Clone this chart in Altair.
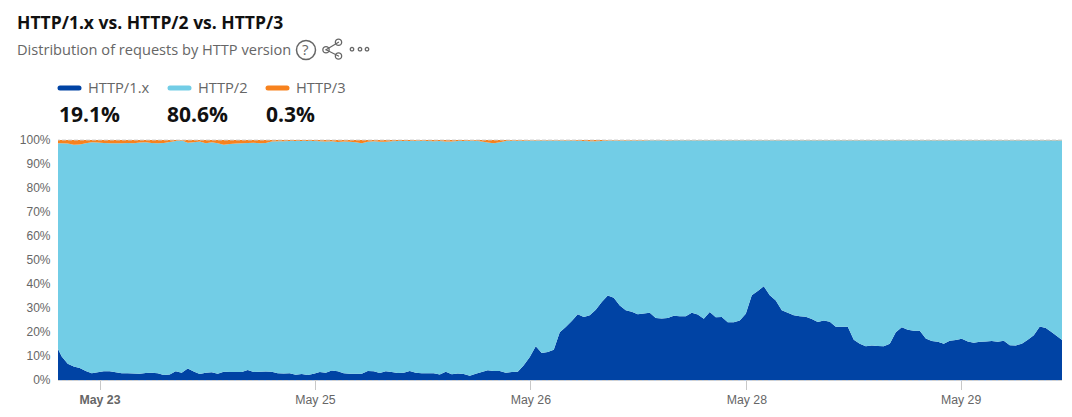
import altair as alt
import pandas as pd

http1 = [15.0,10.0,7.0,5.8,5.2,4.0,3.0,3.4,3.8,3.8,3.4,3.0,3.0,2.9,2.8,3.1,3.2,3.0,2.3,2.5,
 3.8,3.2,5.0,3.7,2.7,3.2,3.4,2.8,3.6,3.5,3.5,3.5,4.4,3.5,3.6,3.7,3.6,3.0,2.9,3.0,
 2.4,2.7,2.3,2.8,3.5,3.2,4.2,3.8,3.0,2.8,2.8,2.8,3.9,3.8,3.1,3.8,3.5,3.1,3.2,4.0,
 3.2,3.0,3.0,3.0,2.5,3.6,2.6,2.9,2.7,2.0,2.8,3.5,4.3,3.9,3.9,3.2,3.5,3.6,6.3,9.8,
 14.2,11.4,11.8,12.8,20.1,22.2,24.7,27.5,26.4,27.1,29.4,32.6,35.3,34.4,31.2,29.2,28.6,27.5,27.9,28.2,
 26.0,25.8,26.0,26.9,26.7,26.7,28.2,27.4,25.7,28.5,26.3,26.4,24.2,24.2,25.0,27.8,35.4,37.2,39.2,35.4,
 33.3,29.2,28.2,27.1,26.7,26.5,25.6,24.3,25.0,24.4,22.4,22.4,22.4,16.9,15.3,14.2,14.6,14.3,14.2,15.3,
 20.1,22.1,21.1,20.7,20.7,17.5,16.4,16.1,15.3,16.5,16.8,17.4,16.2,15.7,16.1,16.2,16.4,16.1,16.5,14.7,
 14.6,15.3,16.9,18.8,22.5,21.8,20.1,18.2,16.2]
http3 = [1.3,1.3,1.5,2.0,1.9,1.3,0.9,1.0,1.2,1.3,1.3,1.3,1.2,1.3,1.0,0.9,1.2,1.4,1.2,0.8,
 0.4,0.2,1.1,0.9,0.6,1.3,0.9,1.3,2.0,1.7,1.5,1.4,1.2,1.1,1.4,1.2,0.6,0.5,0.5,0.4,
 0.4,0.4,0.4,0.4,0.5,0.6,0.5,0.8,0.6,0.7,0.9,1.3,0.7,0.5,0.7,0.7,0.5,0.4,0.4,0.4,
 0.3,0.3,0.4,0.5,0.4,0.6,0.6,0.4,0.4,0.3,0.3,0.6,1.0,1.3,0.9,0.4,0.3,0.3,0.3,0.2,
 0.2,0.2,0.2,0.2,0.2,0.2,0.2,0.3,0.4,0.5,0.5,0.4,0.2,0.2,0.2,0.2,0.2,0.2,0.2,0.1,
 0.1,0.1,0.2,0.1,0.1,0.1,0.1,0.1,0.1,0.1,0.1,0.1,0.1,0.1,0.1,0.1,0.1,0.1,0.1,0.1,
 0.1,0.1,0.1,0.1,0.1,0.1,0.1,0.1,0.1,0.1,0.1,0.1,0.1,0.1,0.1,0.1,0.1,0.1,0.1,0.1,
 0.1,0.1,0.1,0.1,0.1,0.1,0.1,0.1,0.1,0.1,0.1,0.1,0.1,0.1,0.1,0.1,0.1,0.1,0.1,0.1,
 0.1,0.1,0.1,0.1,0.1,0.1,0.1,0.1,0.1]
series = ["HTTP/1.x", "HTTP/2", "HTTP/3"]
colors = ["#0043A4", "#72CDE6", "#F7821E"]
shares = ["19.1%", "80.6%", "0.3%"]
tick_values = [7.3, 43.2, 79.1, 115.1, 150.8]
tick_labels = ["May 23", "May 25", "May 26", "May 28", "May 29"]
y_ticks = [0, 10, 20, 30, 40, 50, 60, 70, 80, 90, 100]
title = "HTTP/1.x vs. HTTP/2 vs. HTTP/3"
subtitle = "Distribution of requests by HTTP version"

PLOT_X, PLOT_Y = 58, 139.5
n = min(len(http1), len(http3))
rows = []
for i in range(n):
    rows.append({"i": i, "s": series[0], "o": 0, "v": http1[i]})
    rows.append({"i": i, "s": series[1], "o": 1, "v": 100 - http1[i] - http3[i]})
    rows.append({"i": i, "s": series[2], "o": 2, "v": http3[i]})
df = pd.DataFrame(rows)

label_map = ",".join(f"'{v}':'{t}'" for v, t in zip(tick_values, tick_labels))
bold_test = f"datum.value == {tick_values[0]}"

y_axis = alt.Axis(values=y_ticks, grid=False, domain=False, ticks=False, title=None,
                  format="d", labelExpr="datum.value + '%'", labelPadding=8, labelOverlap=False,
                  labelOffset=-1,
                  labelFont="Liberation Sans", labelFontSize=12, labelColor="#666666")
y_scale = alt.Scale(domain=[0, 100], nice=False)

area = alt.Chart(df).mark_area(clip=True, interpolate="linear", line=False).encode(
    x=alt.X("i:Q", scale=alt.Scale(domain=[0.38, 167.7], nice=False, zero=False),
            axis=alt.Axis(values=tick_values, grid=False, domain=False, title=None,
                          tickColor="#c8c8c8", tickSize=9, tickWidth=1, labelPadding=4,
                          labelFont="Liberation Sans", labelFontSize=12.3, labelColor="#666666",
                          labelOverlap=False,
                          labelExpr="{" + label_map + "}[datum.value]",
                          labelFontWeight={"condition": {"test": bold_test, "value": "bold"}, "value": "normal"})),
    y=alt.Y("v:Q", stack="zero", scale=y_scale, axis=y_axis),
    color=alt.Color("s:N", scale=alt.Scale(domain=series, range=colors), legend=None),
    order=alt.Order("o:Q"),
)
edges = alt.Chart(pd.DataFrame({"v": [0, 100]})).mark_rule(
    color="#d0d0d0", strokeDash=[4, 2], strokeWidth=1).encode(y=alt.Y("v:Q", scale=y_scale, axis=y_axis))

def text(s, x, y, size, color, weight="normal", font="Open Sans"):
    return alt.Chart(pd.DataFrame({"t": [s]})).mark_text(
        align="left", baseline="middle", fontSize=size, fontWeight=weight, font=font, color=color
    ).encode(x=alt.value(x - PLOT_X), y=alt.value(y - PLOT_Y), text="t:N")

def line(x1, y1, x2, y2, color, width, cap="round"):
    return alt.Chart(pd.DataFrame({"a": [0]})).mark_rule(color=color, strokeWidth=width, strokeCap=cap).encode(
        x=alt.value(x1 - PLOT_X), x2=alt.value(x2 - PLOT_X),
        y=alt.value(y1 - PLOT_Y), y2=alt.value(y2 - PLOT_Y))

def dot(x, y, size, color, width):
    return alt.Chart(pd.DataFrame({"a": [0]})).mark_point(
        shape="circle", filled=False, size=size, color=color, strokeWidth=width, opacity=1
    ).encode(x=alt.value(x - PLOT_X), y=alt.value(y - PLOT_Y))

header = [
    text(title, 17, 23, 17.5, "#111111", "bold"),
    text(subtitle, 17, 50, 14.6, "#666666"),
    dot(306, 49.5, 361, "#666666", 1.5),
    text("?", 302, 49.5, 15, "#666666"),
    line(338.5, 41.7, 326, 49.3, "#666666", 1.2),
    line(326, 49.3, 338.5, 55.5, "#666666", 1.2),
    dot(338.5, 41.7, 40, "#666666", 1.3),
    dot(326, 49.3, 40, "#666666", 1.3),
    dot(338.5, 55.5, 40, "#666666", 1.3),
    dot(352, 48.7, 12, "#666666", 1.3),
    dot(360, 48.7, 12, "#666666", 1.3),
    dot(367, 48.7, 12, "#666666", 1.3),
]
lx = [60, 170, 268]
lt = [88, 198, 296]
px = [59, 167, 266]
for k in range(3):
    header.append(line(lx[k], 87.5, lx[k] + 19, 87.5, colors[k], 5))
    header.append(text(series[k], lt[k], 88.5, 14.7, "#666666"))
    header.append(text(shares[k], px[k], 115, 21, "#111111", "bold"))

chart = alt.layer(area, edges, *header).properties(
    width=1004, height=240.5,
    padding={"left": 9, "top": 6, "right": 0, "bottom": 0},
).configure_view(stroke=None)

chart.save("out.html", embed_options={"renderer": "svg", "actions": False})
